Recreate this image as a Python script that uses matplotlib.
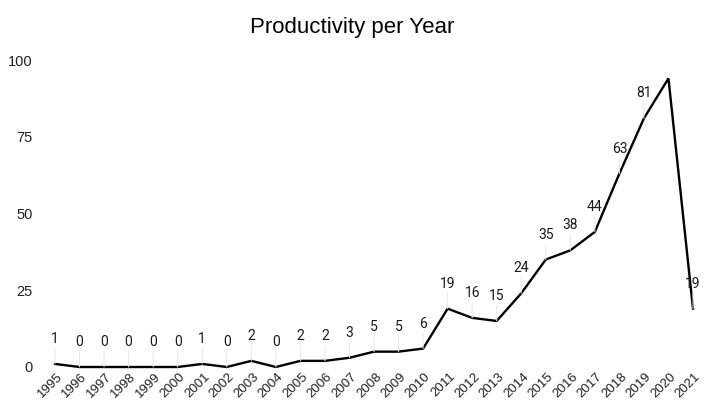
import matplotlib.pyplot as plt

years = list(range(1995, 2022))
papers = [1, 0, 0, 0, 0, 0, 1, 0, 2, 0, 2, 2, 3, 5, 5, 6, 19, 16, 15, 24,
          35, 38, 44, 63, 81, 94, 19]
# 2020 has no value label drawn
labelled = [y != 2020 for y in years]
y_ticks = [0, 25, 50, 75, 100]

fig = plt.figure(figsize=(7.04, 4.03), dpi=100)
ax = fig.add_axes([55 / 704, 36 / 403, 638 / 704, 307 / 403])

ax.plot(years, papers, color='black', linewidth=1.7, solid_joinstyle='miter', clip_on=False)

for yr, val, show in zip(years, papers, labelled):
    if not show:
        continue
    ax.annotate(str(val), xy=(yr, val), xytext=(0, 18), textcoords='offset points',
                ha='center', va='center', fontsize=10, family='Roboto', color='#1a1a1a',
                annotation_clip=False)
    ax.annotate('', xy=(yr, val), xytext=(0, 11), textcoords='offset points',
                arrowprops=dict(arrowstyle='-', color='#e6e6e6', lw=0.7, shrinkA=0, shrinkB=0),
                annotation_clip=False)

ax.set_xlim(1995, 2021)
ax.set_ylim(0, 100)
ax.set_yticks(y_ticks)
ax.set_xticks([])
ax.tick_params(axis='y', length=0, pad=16, labelsize=10.5, labelcolor='#222222')
for lbl in ax.get_yticklabels():
    lbl.set_family('Liberation Sans')

# year labels drawn as rotated text just under the baseline
for yr in years:
    ax.annotate(str(yr), xy=(yr, 0), xycoords=('data', 'axes fraction'),
                xytext=(4, -5.5), textcoords='offset points',
                rotation=45, rotation_mode='anchor', ha='right', va='center',
                fontsize=9.5, family='Liberation Sans', color='#222222',
                annotation_clip=False)

for s in ax.spines.values():
    s.set_visible(False)

fig.text(0.5, 1 - 33 / 403, 'Productivity per Year', ha='center', va='baseline',
         fontsize=16, family='Liberation Sans', color='black')

fig.savefig('out.png', dpi=100)
